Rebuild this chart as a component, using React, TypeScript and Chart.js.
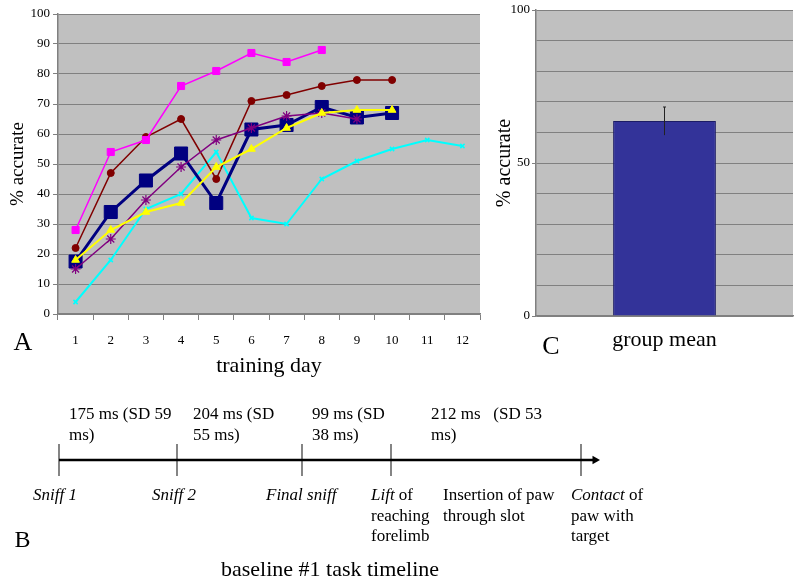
import React, { useEffect, useRef } from 'react';
import { Chart, registerables } from 'chart.js';

Chart.register(...registerables);
Chart.defaults.font.family = '"Liberation Serif", "Times New Roman", serif';
Chart.defaults.color = '#000';

// ---------- Panel A data ----------
const trainingDays = ['1', '2', '3', '4', '5', '6', '7', '8', '9', '10', '11', '12'];
const ratMagenta = [28, 54, 58, 76, 81, 87, 84, 88, null, null, null, null];
const ratDarkRed = [22, 47, 59, 65, 45, 71, 73, 76, 78, 78, null, null];
const ratNavy = [17.5, 34, 44.5, 53.5, 37, 61.5, 63, 69, 65.5, 67, null, null];
const ratPurple = [15, 25, 38, 49, 58, 62, 66, 67, 65, null, null, null];
const ratYellow = [18, 28, 34, 37, 49, 55, 62, 67, 68, 68, null, null];
const ratCyan = [4, 18, 35, 40, 54, 32, 30, 45, 51, 55, 58, 56];

// ---------- Panel C data ----------
const groupLabels = ['group mean'];
const groupMean = [63.7];
const groupSD = [4.6];

// ---------- Panel B data ----------
const timelineEvents = ['Sniff 1', 'Sniff 2', 'Final sniff', 'Lift', 'Contact'];
const timelinePos = [59, 177, 302, 391, 581]; // schematic positions (not to scale)
const timelineArrowEnd = 595;
const intervalText = [
  ['175 ms (SD 59', 'ms)'],
  ['204 ms (SD', '55 ms)'],
  ['99 ms (SD', '38 ms)'],
  ['212 ms   (SD 53', 'ms)'],
];
type Seg = [string, boolean];
const eventLabelText: Seg[][][] = [
  [[['Sniff 1', true]]],
  [[['Sniff 2', true]]],
  [[['Final sniff', true]]],
  [[['Lift', true], [' of', false]], [['reaching', false]], [['forelimb', false]]],
  [[['Insertion of paw', false]], [['through slot', false]]],
  [[['Contact', true], [' of', false]], [['paw with', false]], [['target', false]]],
];

const SERIF = '"Liberation Serif", "Times New Roman", serif';
const PLOT_BG = '#c0c0c0';
const GRID = '#808080';

const bgPlugin = {
  id: 'plotBg',
  beforeDraw(chart: any) {
    const { ctx, chartArea } = chart;
    if (!chartArea) return;
    ctx.save();
    ctx.fillStyle = PLOT_BG;
    ctx.fillRect(chartArea.left, chartArea.top, chartArea.right - chartArea.left, chartArea.bottom - chartArea.top);
    ctx.restore();
  },
};

function letterPlugin(id: string, text: string, x: number, y: number, size: number) {
  return {
    id,
    afterDraw(chart: any) {
      const ctx = chart.ctx;
      ctx.save();
      ctx.fillStyle = '#000';
      ctx.font = `${size}px ${SERIF}`;
      ctx.textAlign = 'center';
      ctx.textBaseline = 'middle';
      ctx.fillText(text, x, y);
      ctx.restore();
    },
  };
}

function PanelA() {
  const ref = useRef<HTMLCanvasElement>(null);
  useEffect(() => {
    if (!ref.current) return;
    const mk = (data: any[], color: string, style: string, radius: number, lw: number, order: number, extra: any = {}) => ({
      data,
      borderColor: color,
      backgroundColor: color,
      borderWidth: lw,
      pointStyle: style,
      pointRadius: radius,
      pointBackgroundColor: color,
      pointBorderColor: color,
      pointBorderWidth: 1,
      tension: 0,
      order,
      ...extra,
    });
    const chart = new Chart(ref.current, {
      type: 'line',
      data: {
        labels: trainingDays,
        datasets: [
          mk(ratYellow, '#ffff00', 'triangle', 4.5, 2, 1),
          mk(ratPurple, '#800080', 'star', 5, 1.5, 2, { pointBorderWidth: 1.2 }),
          mk(ratNavy, '#000080', 'rect', 9.2, 3, 3),
          mk(ratMagenta, '#ff00ff', 'rect', 5, 1.5, 4),
          mk(ratDarkRed, '#800000', 'circle', 3.5, 1.5, 5),
          mk(ratCyan, '#00ffff', 'crossRot', 3, 2, 6, { pointBorderWidth: 1.5 }),
        ],
      },
      options: {
        animation: false,
        responsive: false,
        layout: { autoPadding: false, padding: { top: 14, right: 10, left: 0, bottom: 0 } },
        plugins: { legend: { display: false }, tooltip: { enabled: false } },
        scales: {
          x: {
            offset: true,
            grid: { display: true, drawOnChartArea: false, offset: true, tickLength: 6, color: GRID },
            border: { display: true, color: GRID, width: 1.5 },
            ticks: { font: { family: SERIF, size: 13 }, color: '#000', padding: 13, maxRotation: 0, autoSkip: false },
            title: { display: true, text: 'training day', font: { family: SERIF, size: 22 }, color: '#000', padding: { top: 0, bottom: 6 } },
            afterFit: (s: any) => { s.height = 71; },
          },
          y: {
            min: 0,
            max: 100,
            ticks: { stepSize: 10, font: { family: SERIF, size: 13 }, color: '#000', padding: 3 },
            grid: { color: GRID, tickLength: 5 },
            border: { display: true, color: GRID, width: 1.5 },
            title: { display: true, text: '% accurate', font: { family: SERIF, size: 19 }, color: '#000', padding: { top: 7, bottom: 0 } },
            afterFit: (s: any) => { s.width = 58; },
          },
        },
      } as any,
      plugins: [bgPlugin, letterPlugin('letterA', 'A', 23, 343, 26)],
    });
    return () => chart.destroy();
  }, []);
  return <canvas ref={ref} width={490} height={385} style={{ position: 'absolute', left: 0, top: 0 }} />;
}

function PanelC() {
  const ref = useRef<HTMLCanvasElement>(null);
  useEffect(() => {
    if (!ref.current) return;
    const errorBarPlugin = {
      id: 'errorBars',
      afterDatasetsDraw(chart: any) {
        const { ctx } = chart;
        const yScale = chart.scales.y;
        const meta = chart.getDatasetMeta(0);
        ctx.save();
        ctx.strokeStyle = '#222';
        ctx.lineWidth = 1;
        meta.data.forEach((el: any, i: number) => {
          const top = yScale.getPixelForValue(groupMean[i] + groupSD[i]);
          const bot = yScale.getPixelForValue(groupMean[i] - groupSD[i]);
          ctx.beginPath();
          ctx.moveTo(el.x, top);
          ctx.lineTo(el.x, bot);
          ctx.moveTo(el.x - 1.5, top);
          ctx.lineTo(el.x + 1.5, top);
          ctx.stroke();
        });
        ctx.restore();
      },
    };
    const chart = new Chart(ref.current, {
      type: 'bar',
      data: {
        labels: groupLabels,
        datasets: [
          {
            data: groupMean,
            backgroundColor: '#333399',
            borderColor: '#1c1c66',
            borderWidth: 1,
            barPercentage: 0.4,
            categoryPercentage: 1,
          },
        ],
      },
      options: {
        animation: false,
        responsive: false,
        layout: { autoPadding: false, padding: { top: 10, right: 7, left: 0, bottom: 0 } },
        plugins: { legend: { display: false }, tooltip: { enabled: false } },
        scales: {
          x: {
            grid: { display: false },
            border: { display: true, color: GRID, width: 1.5 },
            ticks: { font: { family: SERIF, size: 22 }, color: '#000', padding: 3 },
            afterFit: (s: any) => { s.height = 69; },
          },
          y: {
            min: 0,
            max: 100,
            ticks: {
              stepSize: 10,
              font: { family: SERIF, size: 13 },
              color: '#000',
              padding: 2,
              autoSkip: false,
              callback: (v: any) => (Number(v) % 50 === 0 ? String(v) : ''),
            },
            grid: {
              color: GRID,
              tickLength: 4,
              tickColor: (c: any) => (c.tick && Number(c.tick.value) % 50 === 0 ? GRID : 'rgba(0,0,0,0)'),
            },
            border: { display: true, color: GRID, width: 1.5 },
            title: { display: true, text: '% accurate', font: { family: SERIF, size: 20 }, color: '#000', padding: { top: 3, bottom: 0 } },
            afterFit: (s: any) => { s.width = 46; },
          },
        },
      } as any,
      plugins: [bgPlugin, errorBarPlugin, letterPlugin('letterC', 'C', 61, 347, 26)],
    });
    return () => chart.destroy();
  }, []);
  return <canvas ref={ref} width={310} height={385} style={{ position: 'absolute', left: 490, top: 0 }} />;
}

function PanelB() {
  const ref = useRef<HTMLCanvasElement>(null);
  useEffect(() => {
    if (!ref.current) return;
    const intervalDx = [10, 16, 10, 40];
    const labelLeft = [33, 152, 266, 371, 443, 571];
    const textPlugin = {
      id: 'timelineText',
      afterDraw(chart: any) {
        const { ctx } = chart;
        const xs = chart.scales.x;
        ctx.save();
        ctx.fillStyle = '#000';
        ctx.textBaseline = 'middle';
        ctx.textAlign = 'left';
        ctx.font = `17px ${SERIF}`;
        intervalText.forEach((lines, i) => {
          const x = xs.getPixelForValue(timelinePos[i]) + intervalDx[i];
          lines.forEach((ln, j) => ctx.fillText(ln, x, 25 + j * 21));
        });
        eventLabelText.forEach((lines, i) => {
          lines.forEach((segs, j) => {
            let x = labelLeft[i];
            const y = 106 + j * 20.5;
            segs.forEach(([t, italic]) => {
              ctx.font = `${italic ? 'italic ' : ''}17px ${SERIF}`;
              ctx.fillText(t, x, y);
              x += ctx.measureText(t).width;
            });
          });
        });
        ctx.font = `24px ${SERIF}`;
        ctx.textAlign = 'center';
        ctx.fillText('B', 22.5, 151);
        ctx.font = `22px ${SERIF}`;
        ctx.fillText('baseline #1 task timeline', 330, 180);
        ctx.restore();
      },
    };
    const chart = new Chart(ref.current, {
      type: 'scatter',
      data: {
        datasets: [
          {
            type: 'line',
            data: [
              { x: timelinePos[0], y: 0 },
              { x: timelineArrowEnd, y: 0 },
            ],
            borderColor: '#000',
            borderWidth: 2.5,
            pointRadius: 0,
          },
          {
            data: timelinePos.map((p) => ({ x: p, y: 0 })),
            pointStyle: 'line',
            rotation: 90,
            pointRadius: 16,
            pointBorderColor: '#333',
            pointBorderWidth: 1.2,
          },
          {
            data: [{ x: timelineArrowEnd, y: 0 }],
            pointStyle: 'triangle',
            rotation: 90,
            pointRadius: 5,
            pointBackgroundColor: '#000',
            pointBorderColor: '#000',
            pointBorderWidth: 0,
          },
        ],
      } as any,
      options: {
        animation: false,
        responsive: false,
        layout: { autoPadding: false, padding: { top: 50, bottom: 106, left: 0, right: 0 } },
        plugins: { legend: { display: false }, tooltip: { enabled: false } },
        scales: {
          x: { type: 'linear', display: false, min: 0, max: 700 },
          y: { display: false, min: -1, max: 1 },
        },
      } as any,
      plugins: [textPlugin],
    });
    return () => chart.destroy();
  }, []);
  return (
    <canvas
      ref={ref}
      width={700}
      height={196}
      aria-label={timelineEvents.join(' → ')}
      style={{ position: 'absolute', left: 0, top: 390 }}
    />
  );
}

export default function App() {
  return (
    <div style={{ position: 'absolute', left: 0, top: 0, width: 800, height: 586, background: '#fff', overflow: 'hidden' }}>
      <PanelA />
      <PanelC />
      <PanelB />
    </div>
  );
}
